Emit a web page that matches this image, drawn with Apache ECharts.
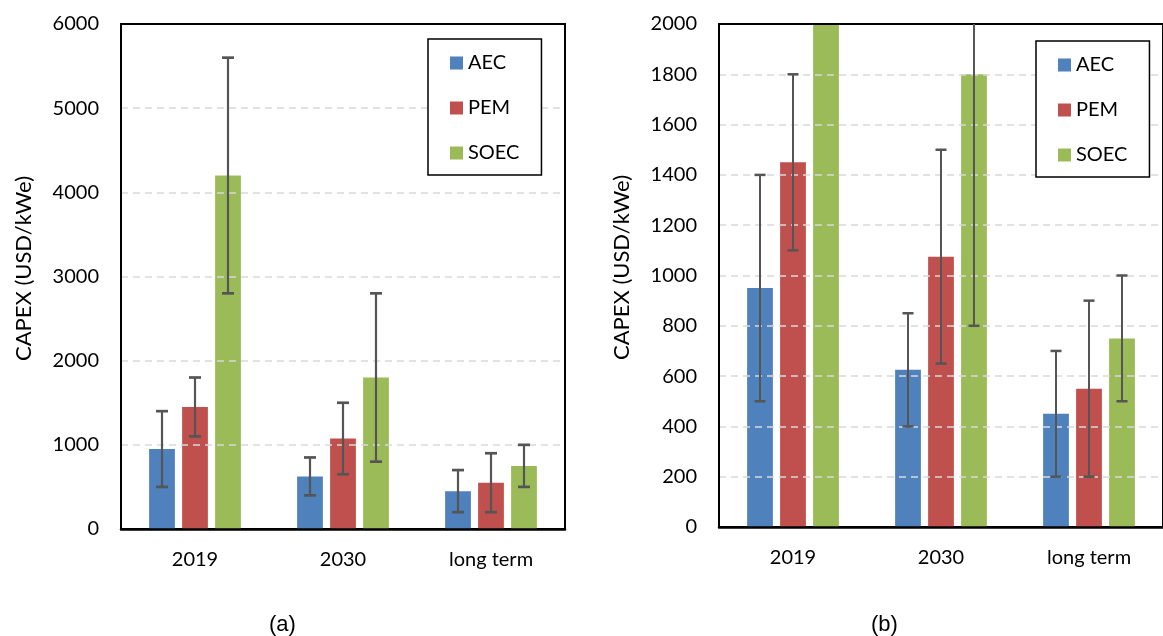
<!DOCTYPE html>
<html>
<head>
<meta charset="utf-8">
<script src="https://cdn.jsdelivr.net/npm/echarts@6/dist/echarts.min.js"></script>
<style>
  html, body { margin: 0; padding: 0; background: #fff; }
  #chart { width: 1163px; height: 636px; }
</style>
</head>
<body>
<div id="chart"></div>
<script>
// ---- data ----
const categories = ['2019', '2030', 'long term'];
const seriesNames = ['AEC', 'PEM', 'SOEC'];
const aecValues  = [950, 625, 450];
const pemValues  = [1450, 1075, 550];
const soecValues = [4200, 1800, 750];
const aecLow   = [500, 400, 200];
const aecHigh  = [1400, 850, 700];
const pemLow   = [1100, 650, 200];
const pemHigh  = [1800, 1500, 900];
const soecLow  = [2800, 800, 500];
const soecHigh = [5600, 2800, 1000];
const yMaxA = 6000, yIntervalA = 1000;
const yMaxB = 2000, yIntervalB = 200;
const axisTitle = 'CAPEX (USD/kWe)';
const panelLabels = ['(a)', '(b)'];

// ---- styling ----
const colors = ['#4F81BD', '#C0504D', '#9BBB59'];
const FONT = 'Lato';
const CAT_GAP = 0.38, BAR_GAP = 0.28;

const values = [aecValues, pemValues, soecValues];
const lows = [aecLow, pemLow, soecLow];
const highs = [aecHigh, pemHigh, soecHigh];

const errData = [];
for (let k = 0; k < 3; k++) {
  for (let c = 0; c < categories.length; c++) {
    errData.push([c, k, lows[k][c], highs[k][c]]);
  }
}

function errRender(capW, lw) {
  return function (params, api) {
    const cat = api.value(0), k = api.value(1);
    const lo = api.value(2), hi = api.value(3);
    const catW = api.size([1, 0])[0];
    const usable = catW * (1 - CAT_GAP);
    const bw = usable / (3 + 2 * BAR_GAP);
    const c0 = api.coord([cat, 0]);
    const x = c0[0] - usable / 2 + k * bw * (1 + BAR_GAP) + bw / 2;
    const cs = params.coordSys;
    const top = cs.y, bot = cs.y + cs.height;
    const yl = api.coord([cat, lo])[1];
    const yh = api.coord([cat, hi])[1];
    if (yl < top) return { type: 'group', children: [] };
    const st = { stroke: '#555555', lineWidth: lw };
    const children = [{
      type: 'line', shape: { x1: x, y1: yl, x2: x, y2: Math.max(yh, top) }, style: st
    }];
    if (yl <= bot) children.push({ type: 'line', shape: { x1: x - capW / 2, y1: yl, x2: x + capW / 2, y2: yl }, style: { stroke: '#555555', lineWidth: lw + 0.5 } });
    if (yh >= top) children.push({ type: 'line', shape: { x1: x - capW / 2, y1: yh, x2: x + capW / 2, y2: yh }, style: { stroke: '#555555', lineWidth: lw + 0.5 } });
    return { type: 'group', children: children };
  };
}

function xAxisFor(gi) {
  return {
    type: 'category', gridIndex: gi, data: categories, z: 3,
    axisLine: { show: true, lineStyle: { color: '#000', width: 2.5 } },
    axisTick: { show: false },
    axisLabel: { color: '#000', fontFamily: FONT, fontSize: 20, margin: 21 }
  };
}
function yAxisFor(gi, max, interval) {
  return {
    type: 'value', gridIndex: gi, min: 0, max: max, interval: interval, z: 3,
    name: axisTitle, nameLocation: 'middle', nameGap: 86, nameRotate: 90,
    nameTextStyle: { color: '#000', fontFamily: FONT, fontSize: 22, padding: [0, 0, 0, 16] },
    axisLine: { show: true, lineStyle: { color: '#000', width: 2 } },
    axisTick: { show: false },
    axisLabel: { color: '#000', fontFamily: FONT, fontSize: 20, margin: 22,
      formatter: function (v) { return String(v); } },
    splitLine: { show: true, showMinLine: false, showMaxLine: false,
      lineStyle: { color: '#D9D9D9', width: 1.5, type: [7, 5] } }
  };
}
function topLineAxis(gi) {
  return {
    type: 'category', gridIndex: gi, data: categories, position: 'top', z: 3,
    axisLine: { show: true, lineStyle: { color: '#000', width: 2 } },
    axisTick: { show: false }, axisLabel: { show: false }, splitLine: { show: false }
  };
}
function legendFor(left, top) {
  return {
    data: seriesNames, orient: 'vertical', left: left, top: top,
    padding: [14, 22, 12, 22], itemGap: 25, itemWidth: 13, itemHeight: 13,
    icon: 'rect', borderColor: '#000', borderWidth: 1.5, backgroundColor: '#fff',
    textStyle: { color: '#000', fontFamily: FONT, fontSize: 20, lineHeight: 20 },
    selectedMode: false
  };
}

const series = [];
[0, 1].forEach(function (gi) {
  for (let k = 0; k < 3; k++) {
    series.push({
      name: seriesNames[k], type: 'bar', xAxisIndex: gi, yAxisIndex: gi,
      data: values[k], barCategoryGap: (CAT_GAP * 100) + '%', barGap: (BAR_GAP * 100) + '%',
      itemStyle: { color: colors[k] }, clip: true, animation: false
    });
  }
  series.push({
    type: 'custom', xAxisIndex: gi, yAxisIndex: gi, data: errData, z: 5,
    renderItem: errRender(gi === 0 ? 12 : 11, gi === 0 ? 2.2 : 2), clip: false, animation: false,
    silent: true
  });
});

const chart = echarts.init(document.getElementById('chart'), null, { renderer: 'canvas' });
chart.setOption({
  animation: false,
  color: colors,
  grid: [
    { left: 121, top: 24, width: 444, height: 505, show: true, borderColor: '#000', borderWidth: 2 },
    { left: 719, top: 24, width: 455, height: 503, show: true, borderColor: '#000', borderWidth: 2 }
  ],
  xAxis: [xAxisFor(0), xAxisFor(1), topLineAxis(0), topLineAxis(1)],
  yAxis: [yAxisFor(0, yMaxA, yIntervalA), yAxisFor(1, yMaxB, yIntervalB)],
  legend: [legendFor(428, 39), legendFor(1036, 41)],
  series: series,
  graphic: [
    { type: 'text', left: 269, top: 614, style: { text: panelLabels[0], fill: '#000', font: '22px "Liberation Sans"' } },
    { type: 'text', left: 871, top: 614, style: { text: panelLabels[1], fill: '#000', font: '22px "Liberation Sans"' } }
  ]
});
</script>
</body>
</html>
